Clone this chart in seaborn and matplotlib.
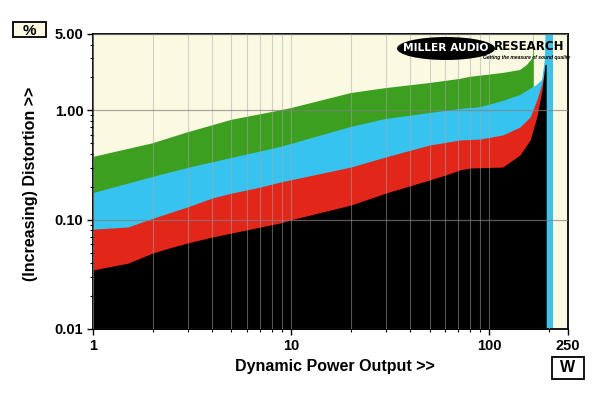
import matplotlib
matplotlib.use("Agg")
import matplotlib.pyplot as plt
import matplotlib.ticker as mticker
from matplotlib.patches import Ellipse, Rectangle
import seaborn as sns

# distortion (%) against dynamic power output (W)
power_green = [1, 2, 3, 5, 8.8, 10, 20, 30, 50, 71, 80, 117, 143, 155, 166, 168]
dist_green = [0.375, 0.50, 0.63, 0.82, 1.0, 1.05, 1.44, 1.60, 1.78, 1.94, 2.03, 2.20, 2.34, 2.60, 3.02, 6.0]

power_blue = [1, 2, 3, 5, 8.8, 20, 30, 50, 71, 90, 117, 143, 174, 185, 191, 193, 210]
dist_blue = [0.175, 0.246, 0.297, 0.367, 0.462, 0.705, 0.834, 0.946, 1.03, 1.07, 1.22, 1.38, 1.71, 1.90, 2.9, 6.0, 6.0]

power_red = [1, 1.5, 2, 3, 4, 5, 7, 8.8, 20, 30, 50, 71, 90, 117, 143, 161, 174, 185, 190]
dist_red = [0.082, 0.0857, 0.103, 0.131, 0.158, 0.175, 0.199, 0.221, 0.303, 0.375, 0.482, 0.536,
            0.547, 0.596, 0.705, 0.871, 1.245, 1.78, 2.24]

power_black = [1, 1.5, 2, 2.5, 3, 4, 5, 7, 8.8, 10, 20, 30, 50, 60, 71, 80, 117, 143, 161, 174,
               185, 191, 194]
dist_black = [0.0347, 0.040, 0.0496, 0.056, 0.0612, 0.0695, 0.0755, 0.0857, 0.0933, 0.100, 0.136,
              0.175, 0.231, 0.256, 0.285, 0.297, 0.303, 0.391, 0.536, 0.871, 1.54, 2.60, 2.65]

x_ticks = [1, 10, 100, 250]
x_labels = ["1", "10", "100", "250"]
y_ticks = [0.01, 0.1, 1, 5]
y_labels = ["0.01", "0.10", "1.00", "5.00"]

sns.set_style("ticks")
plt.rcParams['font.family'] = ['Liberation Sans', 'DejaVu Sans']
plt.rcParams['text.color'] = 'black'
plt.rcParams['xtick.color'] = 'black'
plt.rcParams['ytick.color'] = 'black'
plt.rcParams['axes.labelcolor'] = 'black'

fig = plt.figure(figsize=(6, 3.93), dpi=100)
ax = fig.add_axes([93 / 600, 1 - 329 / 393, 475 / 600, 295 / 393])
ax.set_facecolor("#fcf9e3")

series = [
    (power_green, dist_green, "#3c9f1f"),
    (power_blue, dist_blue, "#36c3ef"),
    (power_red, dist_red, "#e2261a"),
    (power_black, dist_black, "#000000"),
]
for px, dy, col in series:
    ax.fill_between(px, 0.001, dy, color=col, lw=0)

ax.set_xscale("log")
ax.set_yscale("log")
ax.set_xlim(1, 250)
ax.set_ylim(0.01, 5)

ax.set_xticks(x_ticks)
ax.set_xticklabels(x_labels)
ax.set_yticks(y_ticks)
ax.set_yticklabels(y_labels)
ax.xaxis.set_minor_locator(mticker.LogLocator(base=10, subs=range(2, 10), numticks=20))
ax.yaxis.set_minor_locator(mticker.LogLocator(base=10, subs=range(2, 10), numticks=20))
ax.xaxis.set_minor_formatter(mticker.NullFormatter())
ax.yaxis.set_minor_formatter(mticker.NullFormatter())

for lab in ax.get_xticklabels() + ax.get_yticklabels():
    lab.set_fontweight("bold")
    lab.set_fontsize(10.5)
    lab.set_color("black")
ax.tick_params(which="major", length=4, width=1, color="black", pad=3)
ax.tick_params(which="minor", length=2, width=0.8, color="black")

ax.set_axisbelow(False)
ax.grid(which="both", axis="x", color="#a8a8a8", alpha=0.5, lw=0.8)
ax.grid(which="major", axis="y", color="#808080", alpha=0.7, lw=0.9)

for s in ax.spines.values():
    s.set_linewidth(1.3)
    s.set_color("black")

fig.text(31 / 600, 1 - 184 / 393, "(Increasing) Distortion >>", rotation=90,
         ha="center", va="center", fontsize=11.5, fontweight="bold")
fig.text(335 / 600, 1 - 366 / 393, "Dynamic Power Output >>",
         ha="center", va="center", fontsize=11.5, fontweight="bold")

# unit boxes
fig.add_artist(Rectangle((13 / 600, 1 - 36.5 / 393), 33 / 600, 15 / 393, transform=fig.transFigure,
                         fc="#fcf9e3", ec="black", lw=1.3))
fig.text(29.5 / 600, 1 - 29.5 / 393, "%", ha="center", va="center_baseline", fontsize=11,
         fontweight="bold")
fig.add_artist(Rectangle((552 / 600, 1 - 379 / 393), 32 / 600, 22 / 393, transform=fig.transFigure,
                         fc="white", ec="black", lw=1.3))
fig.text(568 / 600, 1 - 368 / 393, "W", ha="center", va="center", fontsize=11.5, fontweight="bold")

# logo
fig.add_artist(Ellipse((446 / 600, 1 - 48.5 / 393), 98 / 600, 23 / 393, transform=fig.transFigure,
                       fc="black", ec="none"))
fig.text(446 / 600, 1 - 48 / 393, "MILLER AUDIO", ha="center", va="center", color="white",
         fontsize=7.7, fontweight="bold", family="DejaVu Sans")
fig.text(529 / 600, 1 - 47 / 393, "RESEARCH", ha="center", va="center", color="black",
         fontsize=8.5, fontweight="bold", family="DejaVu Sans")
fig.text(527 / 600, 1 - 57 / 393, "Getting the measure of sound quality", ha="center", va="center",
         color="black", fontsize=3.6, fontweight="bold", style="italic")

fig.savefig("out.png", dpi=100, facecolor="white")
